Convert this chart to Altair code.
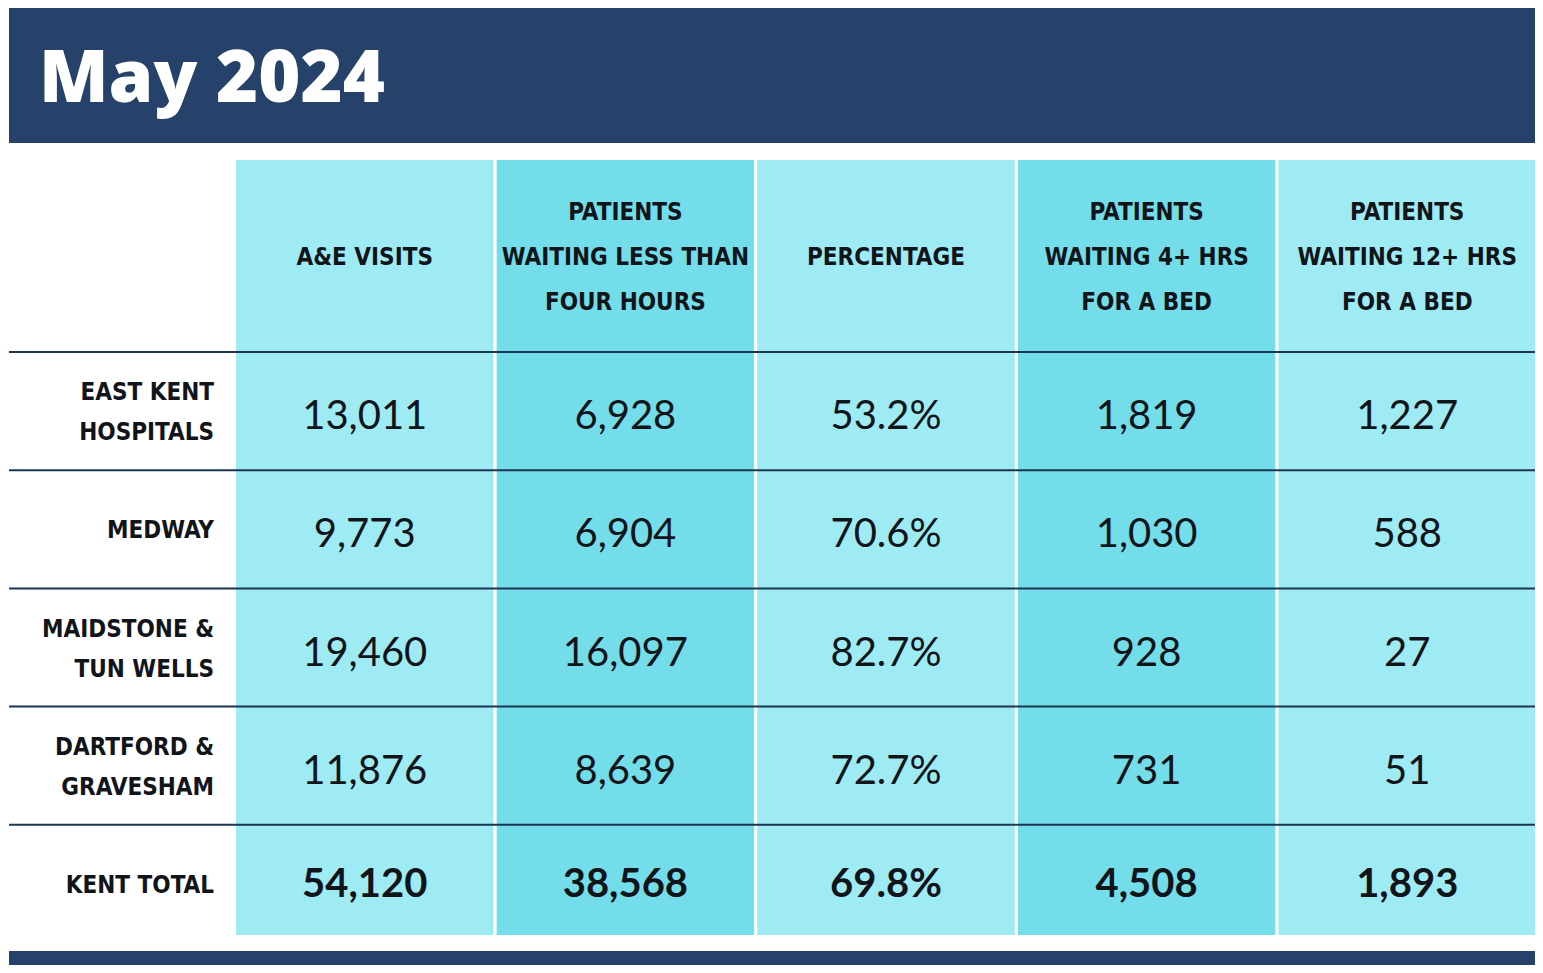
import altair as alt
import pandas as pd

# ---------------- data ----------------
title_text = "May 2024"
row_ids = ["east_kent", "medway", "maidstone", "dartford", "total"]
row_labels = ["EAST KENT\nHOSPITALS", "MEDWAY", "MAIDSTONE &\nTUN WELLS", "DARTFORD &\nGRAVESHAM", "KENT TOTAL"]
col_ids = ["c1", "c2", "c3", "c4", "c5"]
col_headers = [
    "A&E VISITS",
    "PATIENTS\nWAITING LESS THAN\nFOUR HOURS",
    "PERCENTAGE",
    "PATIENTS\nWAITING 4+ HRS\nFOR A BED",
    "PATIENTS\nWAITING 12+ HRS\nFOR A BED",
]
ae_visits = ["13,011", "9,773", "19,460", "11,876", "54,120"]
under_four_hours = ["6,928", "6,904", "16,097", "8,639", "38,568"]
percentage = ["53.2%", "70.6%", "82.7%", "72.7%", "69.8%"]
wait_4_bed = ["1,819", "1,030", "928", "731", "4,508"]
wait_12_bed = ["1,227", "588", "27", "51", "1,893"]
col_shade = ["light", "dark", "light", "dark", "light"]

# ---------------- tables ----------------
series = [ae_visits, under_four_hours, percentage, wait_4_bed, wait_12_bed]
cells = pd.DataFrame(
    [
        {"col": c, "row": r, "value": series[ci][ri], "is_total": r == "total"}
        for ci, c in enumerate(col_ids)
        for ri, r in enumerate(row_ids)
    ]
)
cols_df = pd.DataFrame({
    "col": col_ids, "header": col_headers, "shade": col_shade,
    "nlines": [h.count("\n") + 1 for h in col_headers],
})
rows_df = pd.DataFrame({
    "row": row_ids, "label": row_labels,
    "nlines": [l.count("\n") + 1 for l in row_labels],
})
one = pd.DataFrame({"t": [title_text]})

# ---------------- style ----------------
W, H = 1527, 957
NAVY = "#26426a"
LIGHT = "#9eebf4"
DARK = "#73dde9"
INK = "#111418"
RULE = "#1d3550"
COND = "'Liberation Sans Narrow', 'DejaVu Sans Condensed', sans-serif"
NUMF = "Lato, 'Noto Sans', sans-serif"
TITLEF = "'Open Sans', Lato, sans-serif"

xs = alt.Scale(domain=col_ids, range=[227, W], paddingInner=0.012, paddingOuter=0)
ys = alt.Scale(domain=row_ids, range=[344, 935], paddingInner=0, paddingOuter=0)
X = alt.X("col:N", scale=xs, axis=None)
Y = alt.Y("row:N", scale=ys, axis=None)

header_band = alt.Chart(one).mark_rect(color=NAVY).encode(
    x=alt.value(0), x2=alt.value(W), y=alt.value(0), y2=alt.value(135)
)
bottom_band = alt.Chart(one).mark_rect(color=NAVY).encode(
    x=alt.value(0), x2=alt.value(W), y=alt.value(943), y2=alt.value(H)
)
title = alt.Chart(one).mark_text(
    font=TITLEF, fontSize=72, fontWeight=800, color="white", align="left", baseline="alphabetic"
).encode(x=alt.value(30), y=alt.value(94), text="t:N")

col_bg = alt.Chart(cols_df).mark_rect().encode(
    x=X,
    y=alt.value(152),
    y2=alt.value(927),
    color=alt.Color("shade:N", scale=alt.Scale(domain=["light", "dark"], range=[LIGHT, DARK]), legend=None),
)

rules = alt.Chart(rows_df).mark_rule(color=RULE, strokeWidth=2).encode(
    y=alt.Y("row:N", scale=ys, axis=None, bandPosition=0),
    x=alt.value(0),
    x2=alt.value(W),
)

HEAD_LH = 45
header_layers = [
    alt.Chart(cols_df).transform_filter(f"datum.nlines == {n}").mark_text(
        font=COND, fontSize=24, fontWeight="bold", color=INK, lineBreak="\n", lineHeight=HEAD_LH,
        align="center", baseline="middle", dy=-(n - 1) * HEAD_LH / 2,
    ).encode(x=X, y=alt.value(250), text="header:N")
    for n in (1, 3)
]

ROW_LH = 40
row_layers = [
    alt.Chart(rows_df).transform_filter(f"datum.nlines == {n}").mark_text(
        font=COND, fontSize=24, fontWeight="bold", color=INK, lineBreak="\n", lineHeight=ROW_LH,
        align="right", baseline="middle", dy=-(n - 1) * ROW_LH / 2 + 2,
    ).encode(x=alt.value(205), y=Y, text="label:N")
    for n in (1, 2)
]

vals = alt.Chart(cells).transform_filter("!datum.is_total").mark_text(
    font=NUMF, fontSize=40, fontWeight="normal", color=INK, align="center", baseline="middle", dy=6
).encode(x=X, y=Y, text="value:N")

totals = alt.Chart(cells).transform_filter("datum.is_total").mark_text(
    font=NUMF, fontSize=40, fontWeight="bold", color=INK, align="center", baseline="middle", dy=1
).encode(x=X, y=Y, text="value:N")

chart = (
    alt.layer(header_band, bottom_band, col_bg, rules, title, *header_layers, *row_layers, vals, totals)
    .properties(
        width=W, height=H, padding=0, background="white",
        autosize=alt.AutoSizeParams(type="fit", contains="padding"),
    )
    .configure_view(stroke=None)
)

chart.save("out.html", embed_options={"renderer": "svg", "actions": False})
